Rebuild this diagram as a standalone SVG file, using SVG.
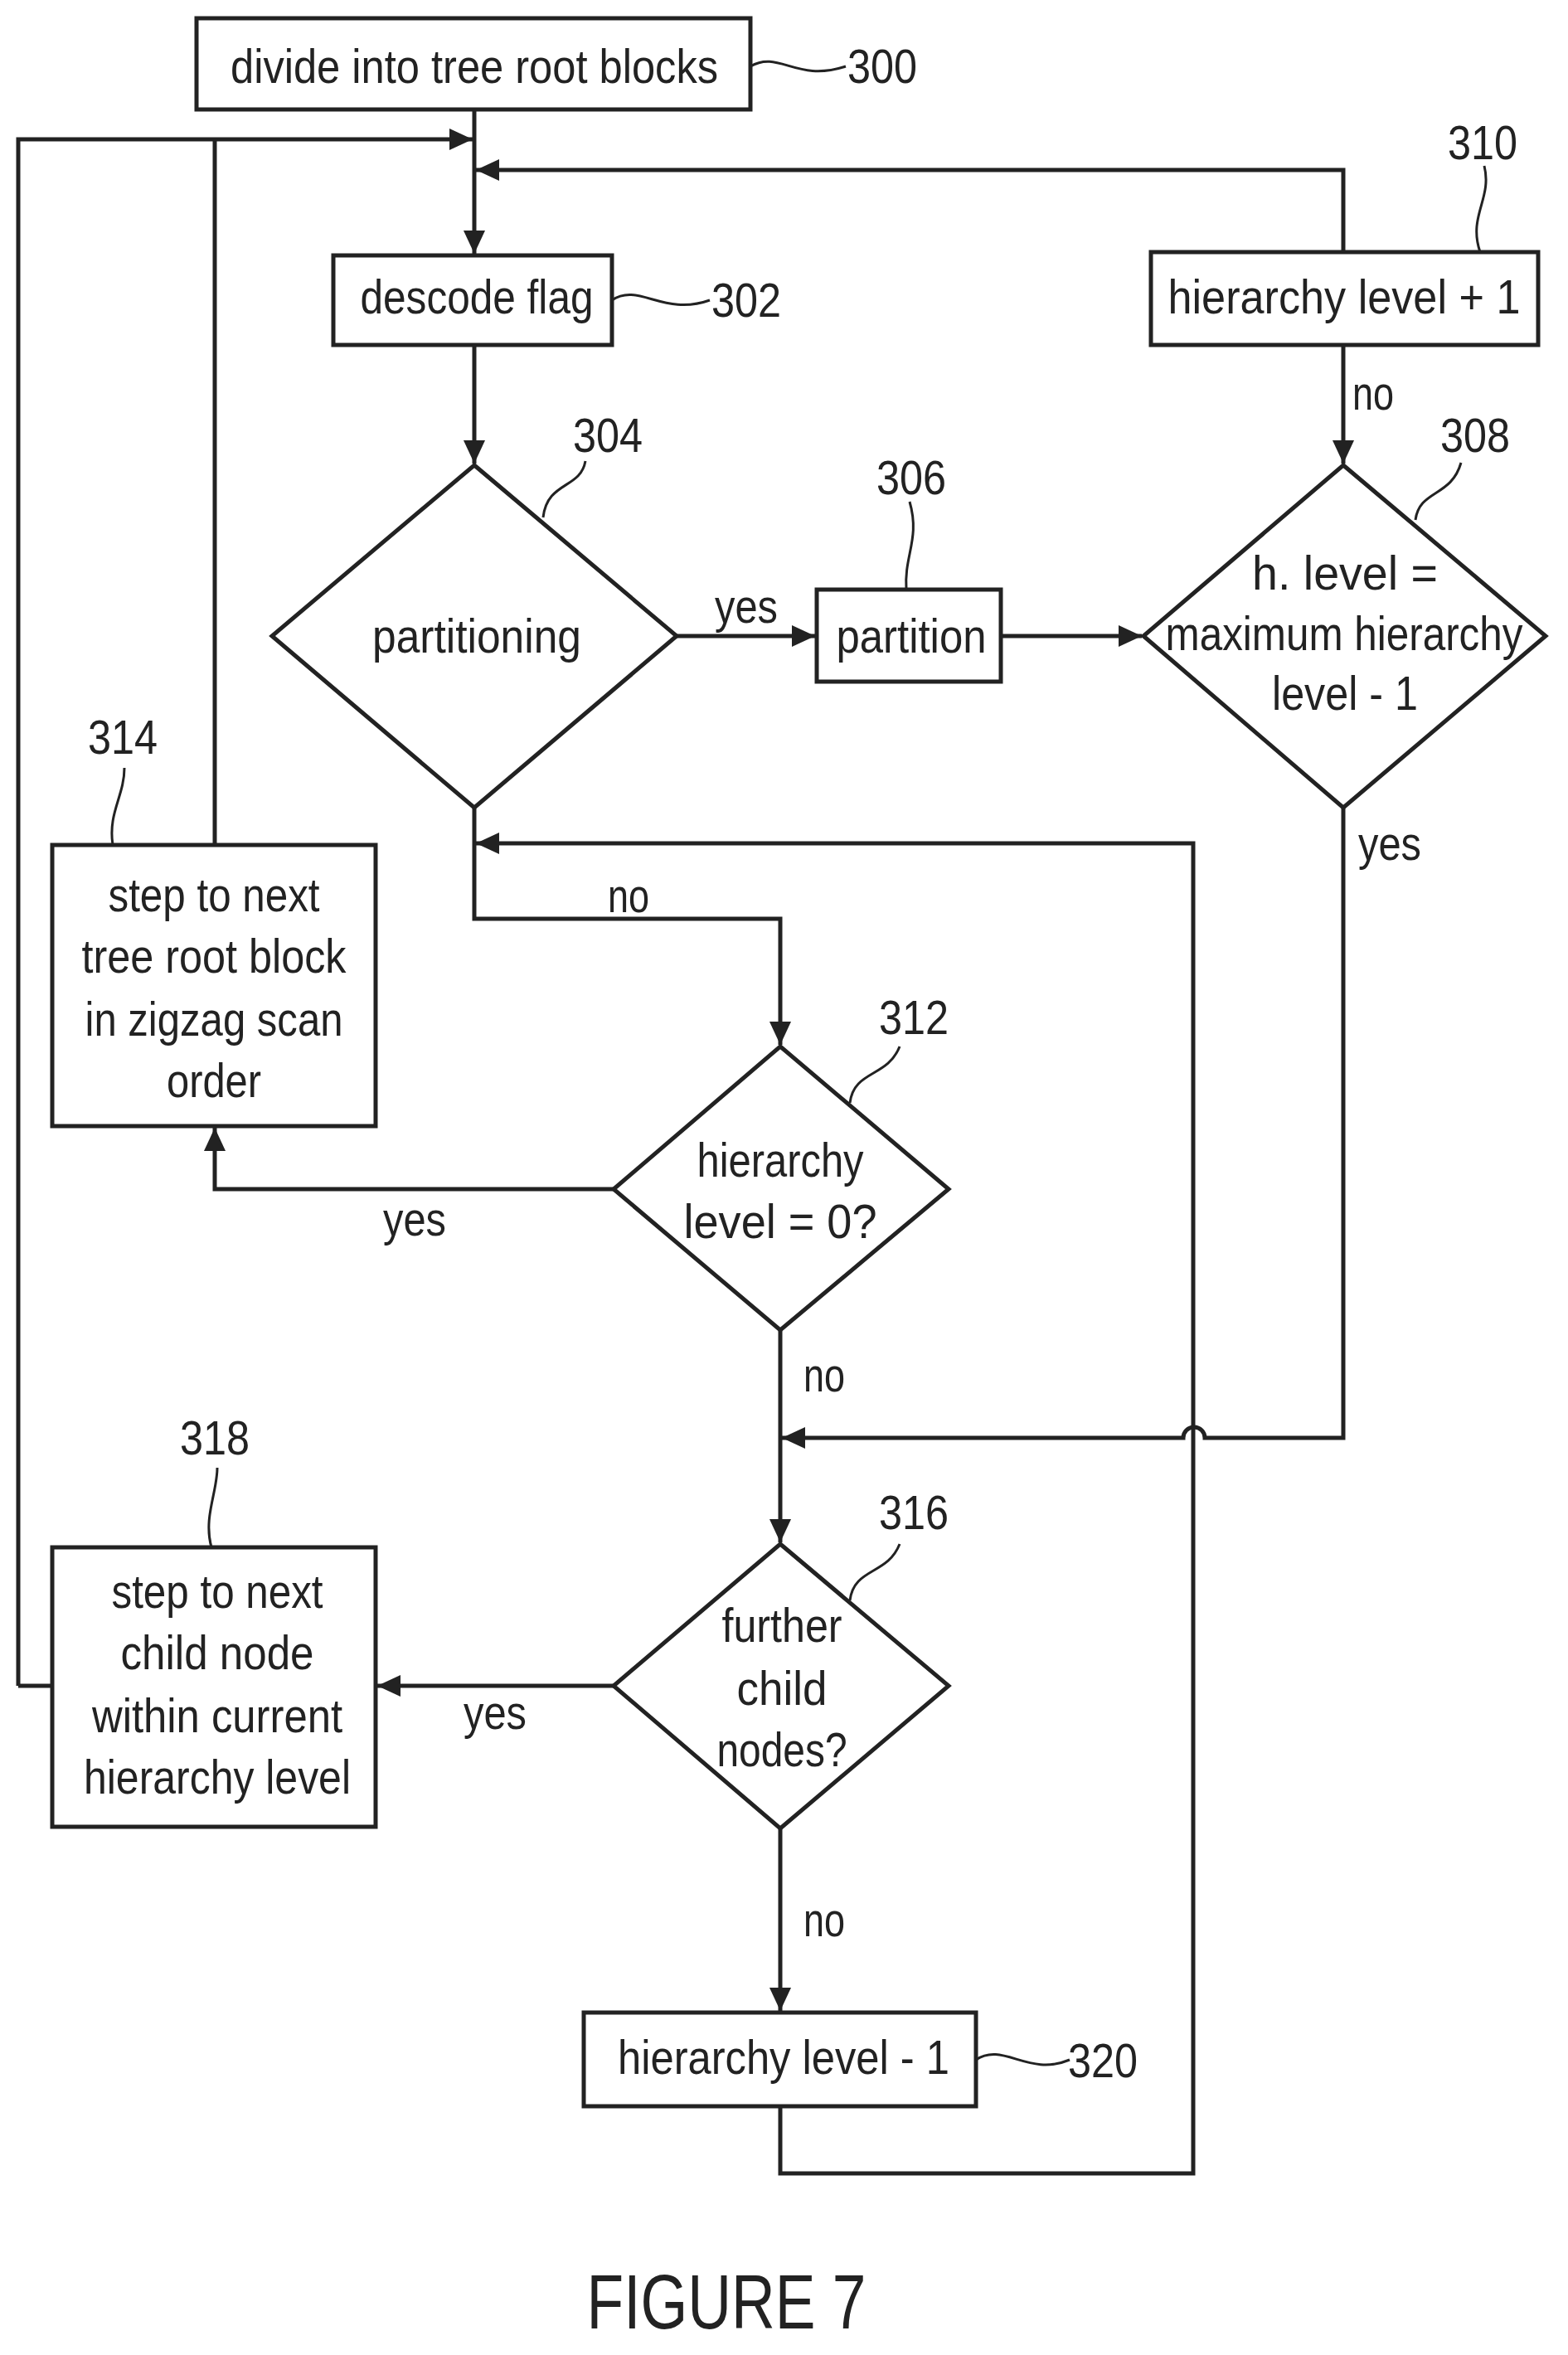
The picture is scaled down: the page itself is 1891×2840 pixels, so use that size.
<svg xmlns="http://www.w3.org/2000/svg" width="1891" height="2840" viewBox="0 0 1891 2840">
<style>
.b{fill:#fff;stroke:#222;stroke-width:5}
.l{fill:none;stroke:#222;stroke-width:5}
.t{font-family:"Liberation Sans",Arial,sans-serif;font-size:58px;fill:#222;text-anchor:middle}
.thin{fill:none;stroke:#222;stroke-width:3}
</style>
<defs>
<marker id="a" markerUnits="userSpaceOnUse" markerWidth="30" markerHeight="26" refX="28" refY="13" orient="auto"><path d="M0,0 L28,13 L0,26 Z" fill="#222"/></marker>
</defs>
<rect width="1891" height="2840" fill="#fff"/>
<g id="connectors">
<path class="l" d="M572,132 V306" marker-end="url(#a)"/>
<path class="l" d="M572,416 V559" marker-end="url(#a)"/>
<path class="l" d="M816,767 H983" marker-end="url(#a)"/>
<path class="l" d="M1207,767 H1377" marker-end="url(#a)"/>
<path class="l" d="M1620,416 V559" marker-end="url(#a)"/>
<path class="l" d="M1620,304 V205 H574" marker-end="url(#a)"/>
<path class="l" d="M22,2033 H63"/>
<path class="l" d="M22,2033 V168 H570" marker-end="url(#a)"/>
<path class="l" d="M259,1019 V168"/>
<path class="l" d="M572,974 V1108 H941 V1260" marker-end="url(#a)"/>
<path class="l" d="M740,1434 H259 V1360" marker-end="url(#a)"/>
<path class="l" d="M941,1604 V1860" marker-end="url(#a)"/>
<path class="l" d="M1620,974 V1734 H1453 A13,13 0 0 0 1427,1734 H943" marker-end="url(#a)"/>
<path class="l" d="M740,2033 H455" marker-end="url(#a)"/>
<path class="l" d="M941,2205 V2425" marker-end="url(#a)"/>
<path class="l" d="M941,2540 V2621 H1439 V1017 H574" marker-end="url(#a)"/>
</g>
<g id="n300"><rect class="b" x="237" y="22" width="668" height="110"/><text class="t" x="572" y="100" textLength="588" lengthAdjust="spacingAndGlyphs">divide into tree root blocks</text><path class="thin" d="M905,80 C940,60 960,100 1020,80"/><text class="t" x="1064" y="100" textLength="84" lengthAdjust="spacingAndGlyphs">300</text></g>
<g id="n302"><rect class="b" x="402" y="308" width="336" height="108"/><text class="t" x="575" y="378" textLength="281" lengthAdjust="spacingAndGlyphs">descode flag</text><path class="thin" d="M738,362 C770,340 800,382 856,362"/><text class="t" x="900" y="382" textLength="84" lengthAdjust="spacingAndGlyphs">302</text></g>
<g id="n310"><rect class="b" x="1388" y="304" width="467" height="112"/><text class="t" x="1621" y="378" textLength="425" lengthAdjust="spacingAndGlyphs">hierarchy level + 1</text><path class="thin" d="M1790,200 C1800,240 1770,260 1785,304"/><text class="t" x="1788" y="192" textLength="84" lengthAdjust="spacingAndGlyphs">310</text></g>
<g id="n304"><path class="b" d="M572,561 L816,767 L572,974 L328,767 Z"/><text class="t" x="575" y="787" textLength="252" lengthAdjust="spacingAndGlyphs">partitioning</text><path class="thin" d="M655,624 C660,580 700,590 706,556"/><text class="t" x="733" y="545" textLength="84" lengthAdjust="spacingAndGlyphs">304</text></g>
<g id="n306"><rect class="b" x="985" y="711" width="222" height="111"/><text class="t" x="1099" y="787" textLength="181" lengthAdjust="spacingAndGlyphs">partition</text><path class="thin" d="M1093,711 C1090,670 1110,650 1097,605"/><text class="t" x="1099" y="596" textLength="84" lengthAdjust="spacingAndGlyphs">306</text></g>
<g id="n308"><path class="b" d="M1620,561 L1864,767 L1620,974 L1379,767 Z"/><text class="t" x="1622" y="711" textLength="224" lengthAdjust="spacingAndGlyphs">h. level =</text><text class="t" x="1621" y="784" textLength="431" lengthAdjust="spacingAndGlyphs">maximum hierarchy</text><text class="t" x="1622" y="856" textLength="176" lengthAdjust="spacingAndGlyphs">level - 1</text><path class="thin" d="M1707,627 C1712,590 1750,600 1762,558"/><text class="t" x="1779" y="545" textLength="84" lengthAdjust="spacingAndGlyphs">308</text></g>
<g id="n312"><path class="b" d="M941,1262 L1144,1434 L941,1604 L740,1434 Z"/><text class="t" x="941" y="1419" textLength="201" lengthAdjust="spacingAndGlyphs">hierarchy</text><text class="t" x="941" y="1493" textLength="233" lengthAdjust="spacingAndGlyphs">level = 0?</text><path class="thin" d="M1025,1330 C1030,1290 1070,1300 1085,1262"/><text class="t" x="1102" y="1247" textLength="84" lengthAdjust="spacingAndGlyphs">312</text></g>
<g id="n314"><rect class="b" x="63" y="1019" width="390" height="339"/><text class="t" x="258" y="1099" textLength="255" lengthAdjust="spacingAndGlyphs">step to next</text><text class="t" x="258" y="1173" textLength="319" lengthAdjust="spacingAndGlyphs">tree root block</text><text class="t" x="258" y="1249" textLength="311" lengthAdjust="spacingAndGlyphs">in zigzag scan</text><text class="t" x="258" y="1323" textLength="114" lengthAdjust="spacingAndGlyphs">order</text><path class="thin" d="M150,926 C150,960 130,980 136,1019"/><text class="t" x="148" y="909" textLength="84" lengthAdjust="spacingAndGlyphs">314</text></g>
<g id="n316"><path class="b" d="M941,1862 L1144,2033 L941,2205 L740,2033 Z"/><text class="t" x="943" y="1980" textLength="145" lengthAdjust="spacingAndGlyphs">further</text><text class="t" x="943" y="2056" textLength="109" lengthAdjust="spacingAndGlyphs">child</text><text class="t" x="943" y="2130" textLength="157" lengthAdjust="spacingAndGlyphs">nodes?</text><path class="thin" d="M1025,1930 C1030,1890 1070,1900 1085,1862"/><text class="t" x="1102" y="1844" textLength="84" lengthAdjust="spacingAndGlyphs">316</text></g>
<g id="n318"><rect class="b" x="63" y="1866" width="390" height="337"/><text class="t" x="262" y="1939" textLength="255" lengthAdjust="spacingAndGlyphs">step to next</text><text class="t" x="262" y="2013" textLength="233" lengthAdjust="spacingAndGlyphs">child node</text><text class="t" x="262" y="2089" textLength="302" lengthAdjust="spacingAndGlyphs">within current</text><text class="t" x="262" y="2163" textLength="322" lengthAdjust="spacingAndGlyphs">hierarchy level</text><path class="thin" d="M262,1770 C262,1800 245,1830 255,1866"/><text class="t" x="259" y="1754" textLength="84" lengthAdjust="spacingAndGlyphs">318</text></g>
<g id="n320"><rect class="b" x="704" y="2427" width="473" height="113"/><text class="t" x="945" y="2501" textLength="400" lengthAdjust="spacingAndGlyphs">hierarchy level - 1</text><path class="thin" d="M1177,2484 C1210,2462 1240,2505 1290,2484"/><text class="t" x="1330" y="2505" textLength="84" lengthAdjust="spacingAndGlyphs">320</text></g>
<g id="labels">
<text class="t" x="1656" y="494" textLength="50" lengthAdjust="spacingAndGlyphs">no</text>
<text class="t" x="900" y="751" textLength="76" lengthAdjust="spacingAndGlyphs">yes</text>
<text class="t" x="1676" y="1037" textLength="76" lengthAdjust="spacingAndGlyphs">yes</text>
<text class="t" x="758" y="1100" textLength="50" lengthAdjust="spacingAndGlyphs">no</text>
<text class="t" x="500" y="1490" textLength="76" lengthAdjust="spacingAndGlyphs">yes</text>
<text class="t" x="994" y="1678" textLength="50" lengthAdjust="spacingAndGlyphs">no</text>
<text class="t" x="597" y="2085" textLength="76" lengthAdjust="spacingAndGlyphs">yes</text>
<text class="t" x="994" y="2335" textLength="50" lengthAdjust="spacingAndGlyphs">no</text>
<text class="t" x="876" y="2808" style="font-size:92px" textLength="337" lengthAdjust="spacingAndGlyphs">FIGURE 7</text>
</g>
</svg>
